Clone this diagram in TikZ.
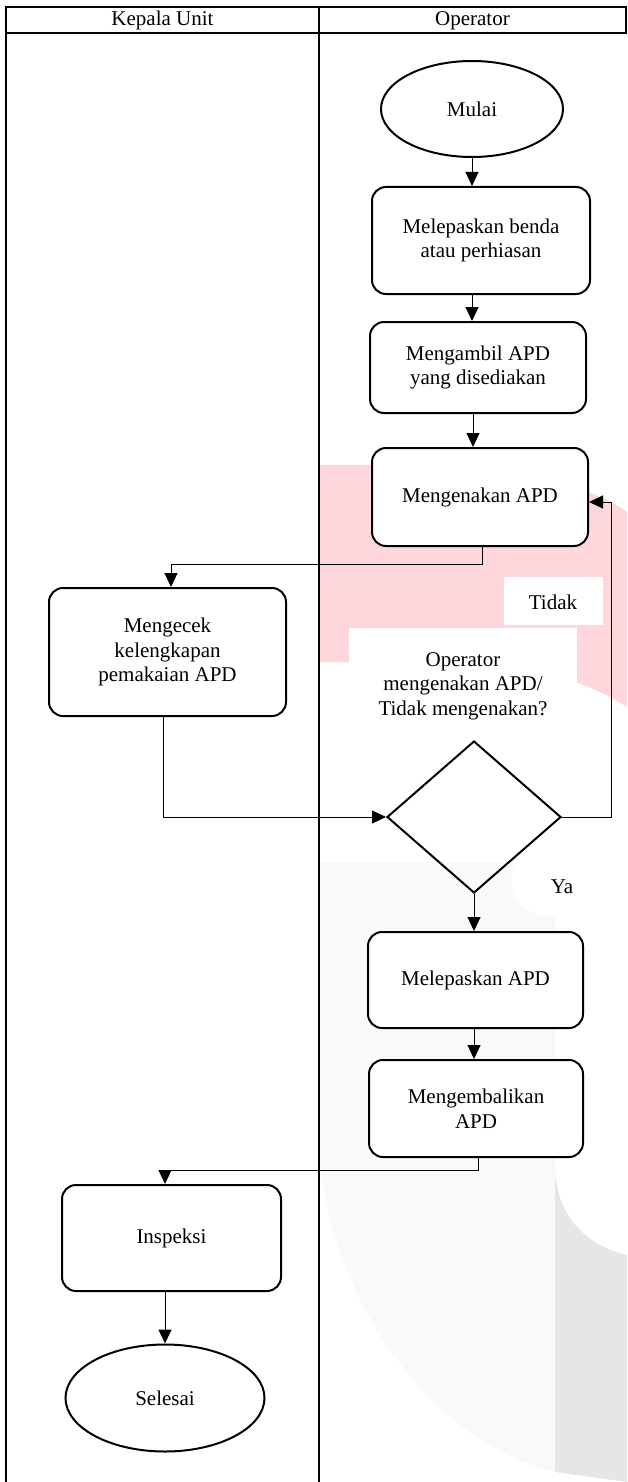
\documentclass[tikz,border=0pt]{standalone}
\usepackage{fontspec}
\setmainfont{Liberation Serif}
\usetikzlibrary{shapes.geometric,arrows.meta,calc}
\definecolor{wmpink}{RGB}{255,214,220}
\definecolor{wmlight}{RGB}{249,249,249}
\definecolor{wmdark}{RGB}{230,230,233}
\newcommand\fsz{\fontsize{21}{24.5}\selectfont}
\begin{document}
\begin{tikzpicture}[x=1pt,y=-1pt,
  proc/.style={draw, line width=2pt, rounded corners=14pt, fill=white, align=center, inner sep=0pt, font=\fsz},
  term/.style={draw, ellipse, line width=2pt, fill=white, inner sep=0pt, font=\fsz},
  lbl/.style={font=\fsz, align=center, inner sep=0pt},
  arr/.style={line width=1pt, -{Triangle[length=14pt,width=13pt]}},
  frame/.style={line width=1.6pt}]
\useasboundingbox (0,0) rectangle (627,1482);
% watermark background
\fill[wmpink] (319,465) .. controls (450,464) and (570,470) .. (627,512) -- (627,707) .. controls (600,690) and (560,670) .. (480,664) -- (319,662) -- cycle;
\fill[white] (504,577) rectangle (603,625);
\fill[white] (349,628) rectangle (577,730);
\fill[wmlight] (319,862) -- (515,862) .. controls (505,888) and (515,917) .. (555,917) -- (555,1472) .. controls (430,1442) and (330,1300) .. (319,1150) -- cycle;
\fill[wmdark] (555,1168) .. controls (556,1215) and (585,1245) .. (627,1255) -- (627,1482) -- (555,1472) -- cycle;
% frame
\draw[frame] (6,7) rectangle (626,33);
\draw[frame] (319,7) -- (319,1482);
\draw[frame] (6,33) -- (6,1482);
\node[lbl] (h1) at (162.5,20.5) {Kepala Unit};
\node[lbl] (h2) at (472.5,20.5) {Operator};
% nodes
\node[term, minimum width=182pt, minimum height=96pt] (mulai) at (472,109) {Mulai};
\node[proc, minimum width=218pt, minimum height=107pt] (b1) at (481,240.5) {Melepaskan benda\\atau perhiasan};
\node[proc, minimum width=216pt, minimum height=91pt] (b2) at (478,367.5) {Mengambil APD\\yang disediakan};
\node[proc, minimum width=216pt, minimum height=98pt] (b3) at (480,497) {Mengenakan APD};
\node[proc, minimum width=237pt, minimum height=128pt] (chk) at (167.5,652) {Mengecek\\kelengkapan\\pemakaian APD};
\node[lbl] (q) at (463,686) {Operator\\mengenakan APD/\\Tidak mengenakan?};
\node[draw, diamond, line width=2pt, minimum width=174pt, minimum height=152pt, inner sep=0pt] (dia) at (474,817) {};
\node[lbl] (tidak) at (553,602) {Tidak};
\node[lbl] (ya) at (562,887) {Ya};
\node[proc, minimum width=215pt, minimum height=96pt] (b4) at (475.5,980) {Melepaskan APD};
\node[proc, minimum width=214pt, minimum height=97pt] (b5) at (476,1108.5) {Mengembalikan\\APD};
\node[proc, minimum width=219pt, minimum height=106pt] (insp) at (171.5,1238) {Inspeksi};
\node[term, minimum width=199pt, minimum height=107pt] (sel) at (165,1398) {Selesai};
% connectors
\draw[arr] (mulai.south) -- (mulai.south |- b1.north);
\draw[arr] (b1.south -| mulai.south) -- (b2.north -| mulai.south);
\draw[arr] ($(b2.south)+(-5,0)$) -- ($(b3.north)+(-7,0)$);
\draw[arr] ($(b3.south)+(2,0)$) -- ++(0,17) -| ($(chk.north)+(3.5,0)$);
\draw[arr] ($(chk.south)+(-4.5,0)$) |- (dia.west);
\draw[arr] (dia.east) -- ++(49,0) |- ($(b3.east)+(0,5)$);
\draw[arr] (dia.south) -- (dia.south |- b4.north);
\draw[arr] ($(b4.south)+(-1.5,0)$) -- ($(b5.north)+(-2,0)$);
\draw[arr] ($(b5.south)+(2,0)$) -- ++(0,12) -| ($(insp.north)+(-6.5,0)$);
\draw[arr] (insp.south -| sel.north) -- (sel.north);
\end{tikzpicture}
\end{document}
